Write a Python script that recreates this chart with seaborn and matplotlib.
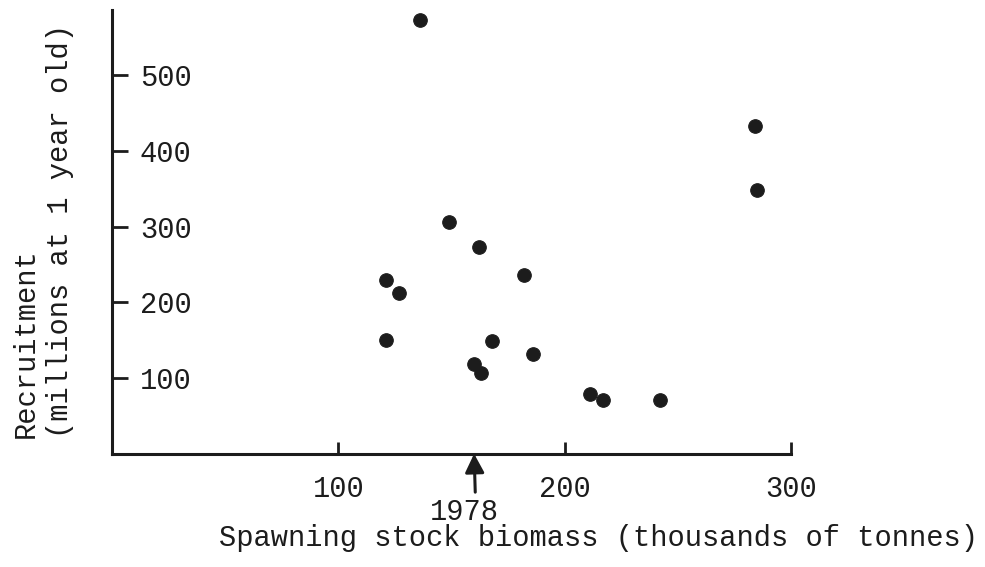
import matplotlib
matplotlib.use("Agg")
import matplotlib.pyplot as plt
import seaborn as sns
import pandas as pd

# Spawning stock biomass (thousands of tonnes) and recruitment (millions at 1 year old)
ssb = [136, 284, 285, 149, 162, 182, 121, 127, 121, 168, 186, 160, 163, 211, 217, 242]
recruits = [573, 433, 348, 306, 273, 236, 230, 212, 150, 149, 132, 119, 107, 79, 71, 71]

x_ticks = [100, 200, 300]
y_ticks = [100, 200, 300, 400, 500]

marked_year = "1978"
marked_ssb = 160

df = pd.DataFrame({"ssb": ssb, "recruits": recruits})

sns.set_style("ticks")
plt.rcParams["font.family"] = ["Liberation Mono", "DejaVu Sans Mono"]
ink = "#1c1c1c"
fs = 20.7

fig = plt.figure(figsize=(9.85, 5.67), dpi=100)
ax = fig.add_axes([0.1137, 0.1997, 0.6893, 0.7826])

sns.scatterplot(data=df, x="ssb", y="recruits", ax=ax, s=95, color=ink,
                edgecolor=ink, linewidth=0.8, clip_on=False, zorder=3)

ax.set_xlim(0, 300)
ax.set_ylim(0, 585.8)
ax.set_xticks(x_ticks)
ax.set_yticks(y_ticks)
ax.set_xticklabels([str(v) for v in x_ticks])
ax.set_yticklabels([str(v) for v in y_ticks])

for side in ("top", "right"):
    ax.spines[side].set_visible(False)
for side in ("left", "bottom"):
    ax.spines[side].set_linewidth(2.2)
    ax.spines[side].set_color(ink)

ax.tick_params(axis="x", direction="in", length=9, width=2, color=ink,
               labelsize=fs, labelcolor=ink, pad=15)
ax.tick_params(axis="y", direction="in", length=11.5, width=2, color=ink,
               labelsize=fs, labelcolor=ink, pad=-20)
plt.setp(ax.get_yticklabels(), ha="left")

ax.set_xlabel("Spawning stock biomass (thousands of tonnes)", fontsize=fs, color=ink)
ax.xaxis.set_label_coords(0.716, -0.158)
ax.set_ylabel("Recruitment\n(millions at 1 year old)", fontsize=fs, color=ink,
              loc="bottom", linespacing=1.3)
ax.yaxis.set_label_coords(-0.056, 0.035)

ax.annotate(marked_year, xy=(marked_ssb, 0), xycoords="data",
            xytext=(-7, -32), textcoords="offset points",
            ha="center", va="top", fontsize=fs, color=ink,
            annotation_clip=False,
            arrowprops=dict(arrowstyle="-|>,head_length=0.55,head_width=0.28",
                            lw=2.2, color=ink, relpos=(0.66, 1.0),
                            shrinkA=2, shrinkB=0))

fig.savefig("out.png", dpi=100)
